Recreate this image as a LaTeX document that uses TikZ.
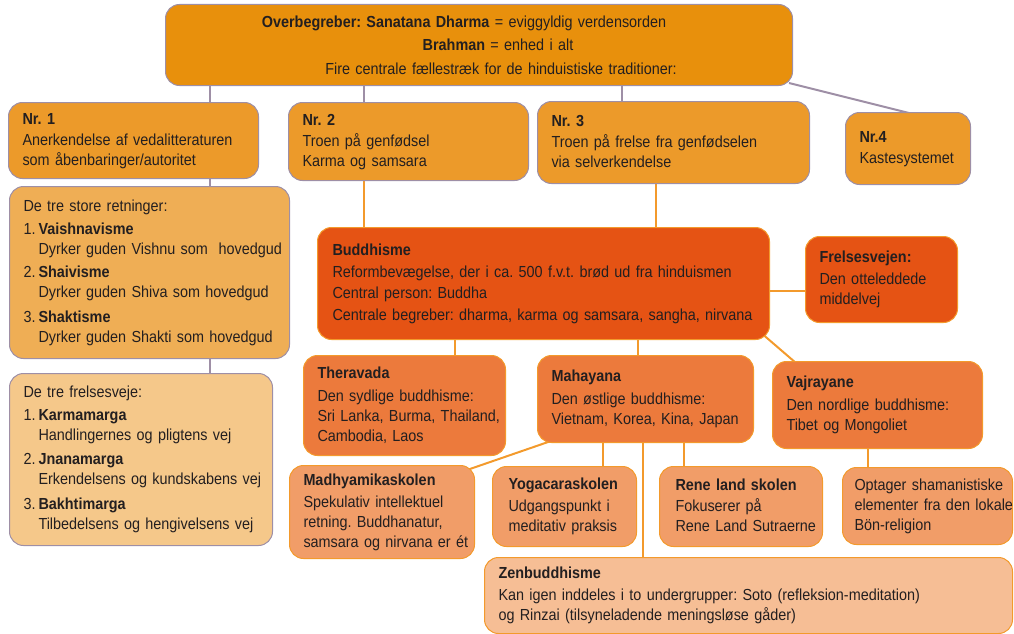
\documentclass[tikz,border=0pt]{standalone}
\usepackage{fontspec}
\setmainfont{Liberation Sans}[FakeStretch=0.9]
\usetikzlibrary{backgrounds}
\frenchspacing
\definecolor{cTop}{HTML}{E8900C}
\definecolor{cNr}{HTML}{EC9A2A}
\definecolor{cRet}{HTML}{EFAE55}
\definecolor{cFrel}{HTML}{F5C88A}
\definecolor{cBud}{HTML}{E55314}
\definecolor{cSch}{HTML}{EC7A3C}
\definecolor{cSub}{HTML}{F19D68}
\definecolor{cZen}{HTML}{F6BE95}
\definecolor{cGray}{HTML}{9E8FA6}
\definecolor{cLine}{HTML}{F39A2C}
\definecolor{cText}{HTML}{231F20}
\tikzset{
  box/.style={rounded corners=14pt, anchor=north west, inner xsep=14pt, inner ysep=0pt,
    align=left, text=cText, line width=1pt, font=\fontsize{16}{20}\selectfont},
  hbox/.style={box, draw=cGray},
  bbox/.style={box, draw=cLine},
  gline/.style={draw=cGray, line width=2pt},
  oline/.style={draw=cLine, line width=2pt},
}
\newcommand{\itm}[1]{\makebox[15pt][l]{#1}}
\newcommand{\tb}[1]{\begin{tabular}[t]{@{}l@{}}#1\end{tabular}}
\begin{document}
\begin{tikzpicture}[x=1pt,y=-1pt]
\useasboundingbox (0,0) rectangle (1014,634);
% Hinduism part
\node[hbox, fill=cTop, minimum width=627pt, minimum height=81pt, text width=599pt, align=center,
  font=\fontsize{16}{23.5}\selectfont] (top) at (165,4)
  {\hspace*{-30pt}\textbf{Overbegreber: Sanatana Dharma} = eviggyldig verdensorden\\
   \hspace*{38pt}\textbf{Brahman} = enhed i alt\\
   \hspace*{44pt}Fire centrale fællestræk for de hinduistiske traditioner:};
\node[hbox, fill=cNr, minimum width=250pt, minimum height=76pt, text width=222pt] (nr1) at (8,102)
  {\tb{\textbf{Nr. 1}\\[1pt]Anerkendelse af vedalitteraturen\\som åbenbaringer/autoritet}};
\node[hbox, fill=cNr, minimum width=240pt, minimum height=78pt, text width=212pt] (nr2) at (288,102)
  {\tb{\textbf{Nr. 2}\\[1pt]Troen på genfødsel\\Karma og samsara}};
\node[hbox, fill=cNr, minimum width=272pt, minimum height=82pt, text width=244pt] (nr3) at (537,101)
  {\tb{\textbf{Nr. 3}\\[1pt]Troen på frelse fra genfødselen\\via selverkendelse}};
\node[hbox, fill=cNr, minimum width=125pt, minimum height=72pt, text width=97pt] (nr4) at (845,112)
  {\tb{\textbf{Nr.4}\\[1pt]Kastesystemet}};
\node[hbox, fill=cRet, minimum width=280pt, minimum height=172pt, text width=252pt] (ret) at (9,186)
  {\tb{De tre store retninger:\\[3pt]
   \itm{1.}\textbf{Vaishnavisme}\\
   \hspace*{15pt}Dyrker guden Vishnu som\ \ hovedgud\\[3pt]
   \itm{2.}\textbf{Shaivisme}\\
   \hspace*{15pt}Dyrker guden Shiva som hovedgud\\[5pt]
   \itm{3.}\textbf{Shaktisme}\\
   \hspace*{15pt}Dyrker guden Shakti som hovedgud}};
\node[hbox, fill=cFrel, minimum width=263pt, minimum height=172pt, text width=235pt] (frel) at (9,373)
  {\tb{De tre frelsesveje:\\[3pt]
   \itm{1.}\textbf{Karmamarga}\\
   \hspace*{15pt}Handlingernes og pligtens vej\\[4pt]
   \itm{2.}\textbf{Jnanamarga}\\
   \hspace*{15pt}Erkendelsens og kundskabens vej\\[5pt]
   \itm{3.}\textbf{Bakhtimarga}\\
   \hspace*{15pt}Tilbedelsens og hengivelsens vej}};
% Buddhism part
\node[bbox, fill=cBud, minimum width=452pt, minimum height=112pt, text width=422pt, inner xsep=15pt] (bud) at (317,227)
  {\tb{\textbf{Buddhisme}\\[2pt]Reformbevægelse, der i ca. 500 f.v.t. brød ud fra hinduismen\\[1.5pt]
   Central person: Buddha\\[1.5pt]Centrale begreber: dharma, karma og samsara, sangha, nirvana}};
\node[bbox, fill=cBud, minimum width=152pt, minimum height=86pt, text width=124pt] (frv) at (805,236)
  {\tb{\textbf{Frelsesvejen:}\\[2pt]Den otteleddede\\middelvej}};
\node[bbox, fill=cSch, minimum width=202pt, minimum height=100pt, text width=174pt] (thr) at (303,355)
  {\tb{\textbf{Theravada}\\[3pt]Den sydlige buddhisme:\\Sri Lanka, Burma, Thailand,\\Cambodia, Laos}};
\node[bbox, fill=cSch, minimum width=216pt, minimum height=87pt, text width=188pt] (mah) at (537,355)
  {\tb{\textbf{Mahayana}\\[3pt]Den østlige buddhisme:\\Vietnam, Korea, Kina, Japan}};
\node[bbox, fill=cSch, minimum width=210pt, minimum height=87pt, text width=182pt] (vaj) at (772,361)
  {\tb{\textbf{Vajrayane}\\[3pt]Den nordlige buddhisme:\\Tibet og Mongoliet}};
\node[bbox, fill=cSub, minimum width=185pt, minimum height=93pt, text width=157pt] (madh) at (289,465)
  {\tb{\textbf{Madhyamikaskolen}\\[2pt]Spekulativ intellektuel\\retning. Buddhanatur,\\samsara og nirvana er ét}};
\node[bbox, fill=cSub, minimum width=140pt, minimum height=80pt, text width=112pt, inner xsep=16pt] (yoga) at (492,466)
  {\tb{\textbf{Yogacaraskolen}\\[2pt]Udgangspunkt i\\meditativ praksis}};
\node[bbox, fill=cSub, minimum width=159pt, minimum height=80pt, text width=131pt, inner xsep=16pt] (rene) at (659,466)
  {\tb{\textbf{Rene land skolen}\\[1pt]Fokuserer på\\Rene Land Sutraerne}};
\node[bbox, fill=cSub, minimum width=170pt, minimum height=77pt, text width=146pt, inner xsep=12pt] (opt) at (842,467)
  {\tb{Optager shamanistiske\\elementer fra den lokale\\Bön-religion}};
\node[bbox, fill=cZen, minimum width=528pt, minimum height=76pt, text width=500pt] (zen) at (484,557)
  {\tb{\textbf{Zenbuddhisme}\\[2pt]Kan igen inddeles i to undergrupper: Soto (refleksion-meditation)\\og Rinzai (tilsyneladende meningsløse gåder)}};
% x positions of connectors
\coordinate (xa) at (210,0);
\coordinate (xb) at (364,0);
\coordinate (xc) at (622,0);
\coordinate (xd) at (656,0);
\coordinate (xe) at (455,0);
\coordinate (xf) at (638,0);
\coordinate (xg) at (603,0);
\coordinate (xh) at (643,0);
\coordinate (xi) at (684,0);
\coordinate (xj) at (868,0);
\coordinate (ya) at (0,291);
\begin{scope}[on background layer]
\draw[gline] (top.south -| xa) -- (nr1.north -| xa);
\draw[gline] (nr1.south -| xa) -- (ret.north -| xa);
\draw[gline] (ret.south -| xa) -- (frel.north -| xa);
\draw[gline] (top.south -| xb) -- (nr2.north -| xb);
\draw[gline] (top.south -| xc) -- (nr3.north -| xc);
\draw[gline] ([shift={(-4,-3)}]top.south east) -- ([shift={(5,2)}]nr4.north);
\draw[oline] (nr2.south -| xb) -- (bud.north -| xb);
\draw[oline] (nr3.south -| xd) -- (bud.north -| xd);
\draw[oline] (bud.east |- ya) -- (frv.west |- ya);
\draw[oline] (bud.south -| xe) -- (thr.north -| xe);
\draw[oline] (bud.south -| xf) -- (mah.north -| xf);
\draw[oline] ([shift={(-10,-8)}]bud.south east) -- ([shift={(24,2)}]vaj.north west);
\draw[oline] ([shift={(14,-2)}]mah.south west) -- ([shift={(-8,5)}]madh.north east);
\draw[oline] (mah.south -| xg) -- (yoga.north -| xg);
\draw[oline] (mah.south -| xh) -- (zen.north -| xh);
\draw[oline] (mah.south -| xi) -- (rene.north -| xi);
\draw[oline] (vaj.south -| xj) -- (opt.north -| xj);
\end{scope}
\end{tikzpicture}
\end{document}
